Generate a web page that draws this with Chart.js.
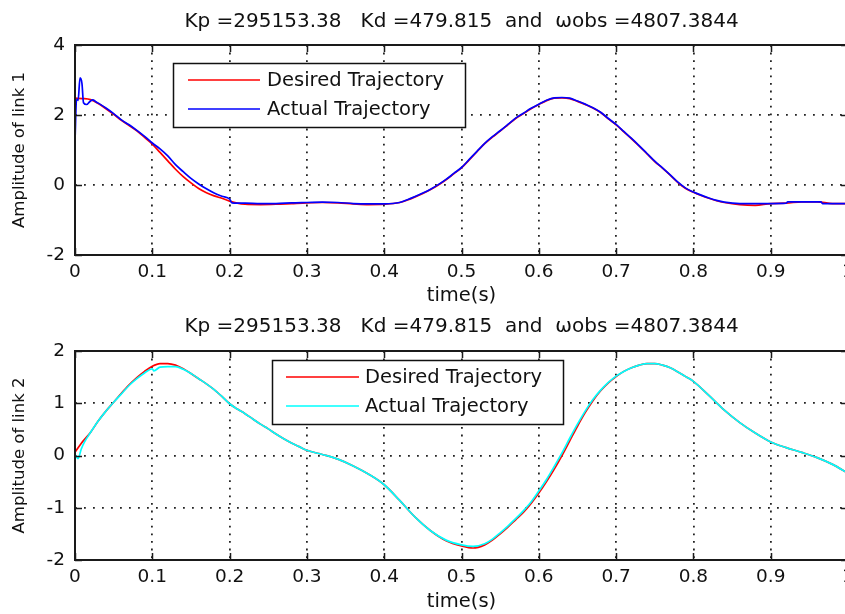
<!DOCTYPE html>
<html><head><meta charset="utf-8">
<script src="https://cdn.jsdelivr.net/npm/chart.js@4.4.0/dist/chart.umd.min.js"></script>
<style>
html,body{margin:0;padding:0;background:#fff;width:845px;height:614px;overflow:hidden;position:relative;}
canvas{position:absolute;left:0;}
#c1{top:0;} #c2{top:306px;}
</style></head><body>
<canvas id="c1" width="850" height="308"></canvas>
<canvas id="c2" width="850" height="308"></canvas>
<script>
// ---------- data ----------
const titleText = "Kp =295153.38   Kd =479.815  and  \u03C9obs =4807.3844";
const xTickLabels = ["0","0.1","0.2","0.3","0.4","0.5","0.6","0.7","0.8","0.9","1"];
const yTickLabels1 = ["-2","0","2","4"];
const yTickLabels2 = ["-2","-1","0","1","2"];
const legendLabels = ["Desired Trajectory","Actual Trajectory"];

// Link 1 – desired
const tDesired1 = [0,0.01,0.02,0.03,0.04,0.05,0.06,0.07,0.08,0.09,0.1,0.11,0.12,0.13,0.14,0.15,0.16,0.17,0.18,0.19,0.2,0.21,0.22,0.24,0.26,0.28,0.3,0.32,0.34,0.36,0.38,0.4,0.42,0.43,0.44,0.45,0.46,0.47,0.48,0.49,0.5,0.51,0.52,0.53,0.54,0.55,0.56,0.57,0.58,0.59,0.6,0.61,0.62,0.63,0.64,0.65,0.66,0.67,0.68,0.69,0.7,0.71,0.72,0.73,0.74,0.75,0.76,0.77,0.78,0.79,0.8,0.81,0.82,0.83,0.84,0.86,0.88,0.9,0.92,0.94,0.96,0.98,1.0];
const desired1 = [2.48,2.47,2.44,2.33,2.18,2.02,1.85,1.70,1.55,1.36,1.17,0.93,0.69,0.45,0.24,0.06,-0.10,-0.22,-0.31,-0.38,-0.46,-0.52,-0.55,-0.56,-0.55,-0.53,-0.51,-0.50,-0.51,-0.54,-0.56,-0.55,-0.50,-0.43,-0.34,-0.24,-0.13,0.00,0.15,0.32,0.49,0.72,0.95,1.18,1.37,1.54,1.72,1.90,2.04,2.18,2.30,2.41,2.48,2.49,2.47,2.39,2.30,2.20,2.07,1.89,1.72,1.52,1.32,1.11,0.89,0.67,0.48,0.28,0.07,-0.10,-0.21,-0.30,-0.38,-0.45,-0.50,-0.56,-0.58,-0.53,-0.52,-0.48,-0.48,-0.53,-0.53];
// Link 1 – actual
const tActual1 = [0,0.002,0.004,0.0065,0.009,0.011,0.015,0.019,0.023,0.027,0.03,0.04,0.05,0.06,0.07,0.08,0.09,0.1,0.11,0.12,0.13,0.14,0.15,0.16,0.17,0.18,0.19,0.2,0.203,0.22,0.24,0.26,0.28,0.3,0.32,0.34,0.36,0.38,0.4,0.42,0.43,0.44,0.45,0.46,0.47,0.48,0.49,0.5,0.51,0.52,0.53,0.54,0.55,0.56,0.57,0.58,0.59,0.6,0.61,0.62,0.63,0.64,0.65,0.66,0.67,0.68,0.69,0.7,0.71,0.72,0.73,0.74,0.75,0.76,0.77,0.78,0.79,0.8,0.81,0.82,0.83,0.84,0.86,0.88,0.9,0.92,0.922,0.965,0.967,1.0];
const actual1 = [1.25,2.45,2.42,3.06,2.90,2.35,2.30,2.38,2.43,2.38,2.34,2.20,2.04,1.86,1.72,1.56,1.39,1.20,1.03,0.83,0.58,0.38,0.19,0.03,-0.11,-0.23,-0.32,-0.40,-0.51,-0.52,-0.53,-0.53,-0.51,-0.50,-0.49,-0.50,-0.53,-0.54,-0.54,-0.50,-0.42,-0.33,-0.23,-0.12,0.01,0.16,0.33,0.50,0.73,0.96,1.19,1.38,1.55,1.73,1.91,2.05,2.19,2.31,2.42,2.49,2.50,2.48,2.40,2.31,2.21,2.08,1.90,1.73,1.53,1.33,1.12,0.90,0.68,0.49,0.29,0.08,-0.09,-0.20,-0.29,-0.37,-0.44,-0.49,-0.53,-0.53,-0.53,-0.52,-0.48,-0.48,-0.53,-0.53];

// Link 2 – desired
const tDesired2 = [0,0.008,0.02,0.03,0.04,0.05,0.06,0.07,0.08,0.09,0.1,0.11,0.12,0.13,0.14,0.15,0.16,0.17,0.18,0.19,0.2,0.21,0.22,0.23,0.24,0.25,0.26,0.27,0.28,0.29,0.3,0.32,0.34,0.36,0.38,0.4,0.42,0.44,0.46,0.48,0.5,0.515,0.53,0.54,0.55,0.56,0.57,0.58,0.59,0.6,0.61,0.62,0.63,0.64,0.65,0.66,0.67,0.68,0.69,0.7,0.71,0.72,0.73,0.74,0.75,0.76,0.77,0.78,0.79,0.8,0.82,0.84,0.86,0.88,0.9,0.92,0.94,0.96,0.98,1.0];
const desired2 = [0.06,0.23,0.44,0.66,0.85,1.02,1.19,1.35,1.49,1.61,1.71,1.76,1.76,1.73,1.66,1.57,1.47,1.37,1.26,1.13,0.99,0.89,0.80,0.70,0.60,0.51,0.41,0.32,0.24,0.17,0.10,0.02,-0.07,-0.20,-0.36,-0.56,-0.86,-1.18,-1.44,-1.63,-1.73,-1.77,-1.71,-1.62,-1.50,-1.37,-1.23,-1.09,-0.92,-0.72,-0.50,-0.26,0.00,0.28,0.56,0.82,1.05,1.24,1.39,1.51,1.61,1.68,1.73,1.76,1.76,1.73,1.68,1.60,1.51,1.42,1.15,0.87,0.63,0.43,0.26,0.15,0.06,-0.04,-0.17,-0.34];
// Link 2 – actual
const tActual2 = [0,0.004,0.008,0.012,0.02,0.03,0.04,0.05,0.06,0.07,0.08,0.09,0.1,0.102,0.11,0.12,0.13,0.14,0.15,0.16,0.17,0.18,0.19,0.2,0.21,0.22,0.23,0.24,0.25,0.26,0.27,0.28,0.29,0.3,0.32,0.34,0.36,0.38,0.4,0.42,0.44,0.46,0.48,0.5,0.515,0.53,0.54,0.55,0.56,0.57,0.58,0.59,0.6,0.61,0.62,0.63,0.64,0.65,0.66,0.67,0.68,0.69,0.7,0.71,0.72,0.73,0.74,0.75,0.76,0.77,0.78,0.79,0.8,0.82,0.84,0.86,0.88,0.9,0.92,0.94,0.96,0.98,1.0];
const actual2 = [0.02,-0.06,0.12,0.25,0.44,0.66,0.85,1.02,1.18,1.34,1.47,1.58,1.66,1.62,1.69,1.70,1.70,1.65,1.57,1.47,1.37,1.26,1.13,0.99,0.89,0.80,0.70,0.60,0.51,0.41,0.32,0.24,0.17,0.10,0.02,-0.07,-0.20,-0.36,-0.56,-0.86,-1.18,-1.44,-1.62,-1.71,-1.74,-1.69,-1.60,-1.48,-1.35,-1.21,-1.06,-0.89,-0.68,-0.46,-0.21,0.05,0.33,0.60,0.85,1.07,1.25,1.40,1.52,1.61,1.68,1.73,1.76,1.76,1.73,1.68,1.60,1.51,1.42,1.15,0.87,0.63,0.43,0.26,0.15,0.06,-0.04,-0.17,-0.34];

// ---------- helpers ----------
const FONT = "'DejaVu Sans', sans-serif";
const INK = '#111';
const pts = (ts, vs) => ts.map((t, i) => ({x: t, y: vs[i]}));

const matlabAxes = {
  id: 'matlabAxes',
  afterDraw(chart) {
    const {ctx, chartArea: {left, right, top, bottom}, scales: {x, y}} = chart;
    ctx.save();
    ctx.strokeStyle = '#1a1a1a';
    ctx.lineWidth = 1.5;
    const L = 7;
    ctx.beginPath();
    x.ticks.forEach(t => {
      const px = Math.round(x.getPixelForValue(t.value)) + 0.5;
      ctx.moveTo(px, bottom); ctx.lineTo(px, bottom - L);
      ctx.moveTo(px, top); ctx.lineTo(px, top + L);
    });
    y.ticks.forEach(t => {
      const py = Math.round(y.getPixelForValue(t.value)) + 0.5;
      ctx.moveTo(left, py); ctx.lineTo(left + L, py);
      ctx.moveTo(right, py); ctx.lineTo(right - L, py);
    });
    ctx.stroke();
    ctx.lineWidth = 2;
    ctx.strokeRect(left, top, right - left, bottom - top);
    // legend box
    const lg = chart.options.plugins.boxLegend;
    if (lg) {
      ctx.fillStyle = '#fff';
      ctx.fillRect(lg.x, lg.y, lg.w, lg.h);
      ctx.lineWidth = 1.5;
      ctx.strokeStyle = '#111';
      ctx.strokeRect(lg.x + 0.5, lg.y + 0.5, lg.w, lg.h);
      ctx.font = lg.fontSize + 'px ' + FONT;
      ctx.textBaseline = 'middle';
      ctx.textAlign = 'left';
      chart.data.datasets.forEach((ds, i) => {
        const cy = lg.y + lg.rowY[i];
        ctx.strokeStyle = ds.borderColor;
        ctx.lineWidth = 1.6;
        ctx.beginPath();
        ctx.moveTo(lg.x + lg.lineX0, cy); ctx.lineTo(lg.x + lg.lineX1, cy);
        ctx.stroke();
        ctx.fillStyle = INK;
        ctx.fillText(ds.label, lg.x + lg.textX, cy + 1);
      });
    }
    ctx.restore();
  }
};

function makeChart(id, cfg) {
  const H = 308;
  return new Chart(document.getElementById(id), {
    type: 'line',
    data: {
      datasets: [
        {label: legendLabels[0], data: pts(cfg.tD, cfg.d), borderColor: '#ff0000', borderWidth: 1.7, pointRadius: 0, cubicInterpolationMode: 'monotone', order: 2},
        {label: legendLabels[1], data: pts(cfg.tA, cfg.a), borderColor: cfg.actualColor, borderWidth: 1.7, pointRadius: 0, cubicInterpolationMode: 'monotone', order: 1}
      ]
    },
    options: {
      responsive: false,
      animation: false,
      layout: {padding: {left: 0, right: 2, top: 0, bottom: 0}},
      plugins: {
        legend: {display: false},
        tooltip: {enabled: false},
        title: {display: true, text: titleText, fullSize: false, color: INK,
                font: {family: FONT, size: 20, weight: 'normal', lineHeight: 1.2},
                padding: {top: cfg.titleTop, bottom: 45 - 24 - cfg.titleTop}},
        boxLegend: cfg.legend
      },
      scales: {
        x: {
          type: 'linear', min: 0, max: 1,
          ticks: {stepSize: 0.1, autoSkip: false, maxRotation: 0, padding: 6, color: INK,
                  font: {family: FONT, size: 18.5},
                  callback: (v, i) => xTickLabels[i]},
          grid: {drawTicks: false, color: '#222', lineWidth: 1.8, borderDash: [1.8, 5.8]},
          border: {display: false, dash: [1.8, 5.8]},
          title: {display: true, text: 'time(s)', color: INK, font: {family: FONT, size: 19.5, lineHeight: 1.2}, padding: {top: 0, bottom: 0}},
          afterFit: s => { s.height = H - cfg.bottom; s.paddingLeft = 0; s.paddingRight = 0; }
        },
        y: {
          min: cfg.yMin, max: cfg.yMax,
          ticks: {stepSize: cfg.yStep, padding: 10, color: INK, font: {family: FONT, size: 18.5},
                  callback: (v, i) => cfg.yLabels[i]},
          grid: {drawTicks: false, color: '#222', lineWidth: 1.8, borderDash: [1.8, 7.2]},
          border: {display: false, dash: [1.8, 7.2]},
          title: {display: true, text: cfg.yTitle, color: INK, font: {family: FONT, size: 16.5, lineHeight: 1.2}, padding: {top: 10, bottom: 0}},
          afterFit: s => { s.width = 75; s.paddingTop = 0; s.paddingBottom = 0; }
        }
      }
    },
    plugins: [matlabAxes]
  });
}

makeChart('c1', {
  tD: tDesired1, d: desired1, tA: tActual1, a: actual1, actualColor: '#0000ff',
  yMin: -2, yMax: 4, yStep: 2, yLabels: yTickLabels1, yTitle: 'Amplitude of link 1',
  titleTop: 10, bottom: 255,
  legend: {x: 173, y: 63, w: 292, h: 64, rowY: [17, 46], lineX0: 15, lineX1: 87, textX: 94, fontSize: 19.5}
});
makeChart('c2', {
  tD: tDesired2, d: desired2, tA: tActual2, a: actual2, actualColor: '#00ffff',
  yMin: -2, yMax: 2, yStep: 1, yLabels: yTickLabels2, yTitle: 'Amplitude of link 2',
  titleTop: 9, bottom: 254,
  legend: {x: 272, y: 54, w: 291, h: 64, rowY: [17, 46], lineX0: 14, lineX1: 87, textX: 93, fontSize: 19.5}
});
</script>
</body></html>
